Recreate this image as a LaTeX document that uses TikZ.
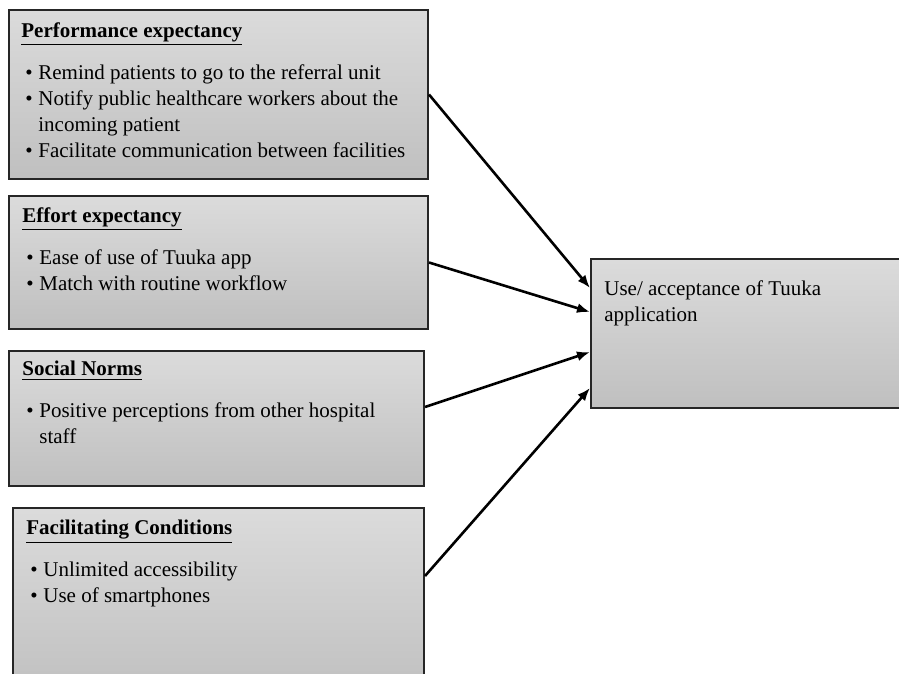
\documentclass[tikz,border=0pt]{standalone}
\usepackage{fontspec}
\setmainfont{Liberation Serif}
\usetikzlibrary{positioning,arrows.meta}
\tikzset{factor/.style = {shape=rectangle,draw=black!85,line width=1pt,top color=gray!28,bottom color=gray!50}}
\tikzset{factortext/.style = {inner sep=0pt,align=left,font=\fontsize{10.5}{13}\selectfont}}
\tikzset{link/.style = {-{Latex[length=6.5pt,width=5pt]},line width=1.3pt}}
\newcommand{\bul}[1]{\hspace*{2pt}\makebox[6.5pt][l]{\textbullet}#1}
\newcommand{\cont}[1]{\hspace*{8.5pt}#1}
\newcommand{\head}[1]{\textbf{\underline{#1}}}

\begin{document}
\begin{tikzpicture}[x=0.5pt,y=-0.5pt]
          \clip (0,0) rectangle (899,674);
          \node[factor,minimum width=209.5pt,minimum height=84.5pt] (perf) at (218.5,94.5) {};
          \node[factor,minimum width=209.5pt,minimum height=66.5pt] (eff) at (218.5,262.5) {};
          \node[factor,minimum width=207.5pt,minimum height=67.5pt] (soc) at (216.5,418.5) {};
          \node[factor,minimum width=205.5pt,minimum height=96pt] (fac) at (218.5,604) {};
          \node[factor,minimum width=164.5pt,minimum height=74.5pt] (use) at (755.5,333.5) {};

          \node[factortext,below right=6.5pt and 6.5pt of perf.north west] (perftext) {\head{Performance expectancy}\\[8pt]
            \bul{Remind patients to go to the referral unit}\\
            \bul{Notify public healthcare workers about the}\\
            \cont{incoming patient}\\
            \bul{Facilitate communication between facilities}};
          \node[factortext,below right=6pt and 7pt of eff.north west] (efftext) {\head{Effort expectancy}\\[8pt]
            \bul{Ease of use of Tuuka app}\\
            \bul{Match with routine workflow}};
          \node[factortext,below right=5.5pt and 7pt of soc.north west] (soctext) {\head{Social Norms}\\[8pt]
            \bul{Positive perceptions from other hospital}\\
            \cont{staff}};
          \node[factortext,below right=6.5pt and 7pt of fac.north west] (factext) {\head{Facilitating Conditions}\\[8pt]
            \bul{Unlimited accessibility}\\
            \bul{Use of smartphones}};
          \node[factortext,below right=11.2pt and 7pt of use.north west] (usetext) {Use/ acceptance of Tuuka\\application};

          \draw[link] (perf.east) -- ([yshift=22.75pt]use.west);
          \draw[link] (eff.east) -- ([yshift=10.75pt]use.west);
          \draw[link] ([yshift=5.75pt]soc.east) -- ([yshift=-9.25pt]use.west);
          \draw[link] ([yshift=14pt]fac.east) -- ([yshift=-27.25pt]use.west);
        \end{tikzpicture}
\end{document}
